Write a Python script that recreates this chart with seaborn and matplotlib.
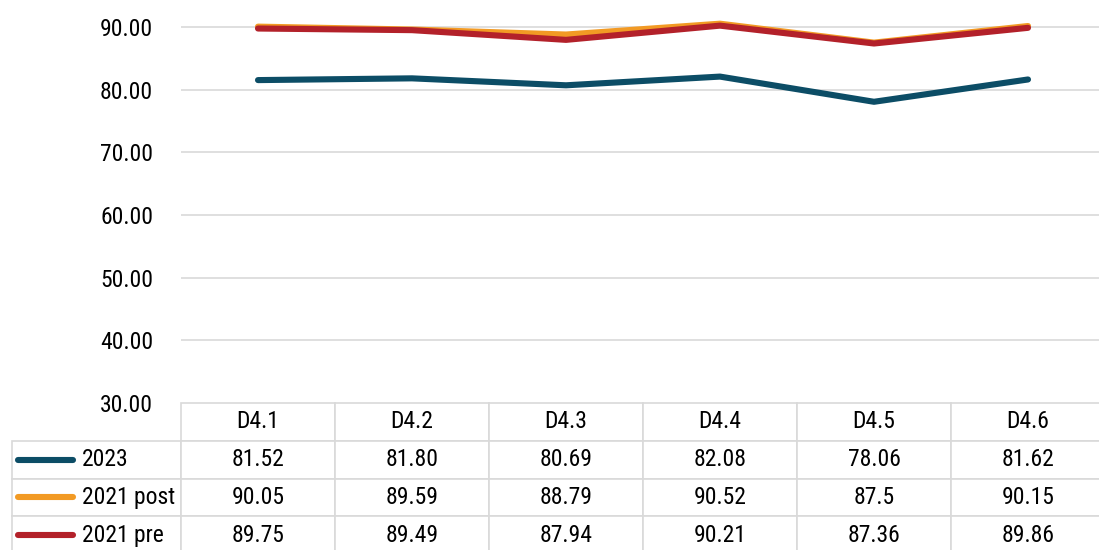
import numpy as np
import pandas as pd
import seaborn as sns
from matplotlib import pyplot as plt

categories = ["D4.1", "D4.2", "D4.3", "D4.4", "D4.5", "D4.6"]
series_names = ["2023", "2021 post", "2021 pre"]
vals_2023 = ["81.52", "81.80", "80.69", "82.08", "78.06", "81.62"]
vals_2021_post = ["90.05", "89.59", "88.79", "90.52", "87.5", "90.15"]
vals_2021_pre = ["89.75", "89.49", "87.94", "90.21", "87.36", "89.86"]
colors = ["#0c4d66", "#f29a24", "#b3212a"]
y_ticks = [30, 40, 50, 60, 70, 80, 90]

rows = [vals_2023, vals_2021_post, vals_2021_pre]

records = []
for name, vals in zip(series_names, rows):
    for i, v in enumerate(vals):
        records.append({"pos": i + 0.5, "value": float(v), "series": name})
df = pd.DataFrame(records)

sns.set_style("white")
plt.rcParams["font.family"] = ["Liberation Sans Narrow", "Roboto Condensed",
                               "Open Sans Condensed", "DejaVu Sans Condensed",
                               "DejaVu Sans"]
plt.rcParams["text.color"] = "black"
plt.rcParams["ytick.color"] = "black"

fs = 17

fig = plt.figure(figsize=(10.99, 5.5), dpi=100)
# axes spans x=181..1105 px, y=0..403 px
ax = fig.add_axes([181 / 1099, 1 - 403 / 550, 924 / 1099, 403 / 550])

sns.lineplot(data=df, x="pos", y="value", hue="series", hue_order=series_names,
             palette=colors, lw=4.4, legend=False, ax=ax, solid_capstyle="round")

ax.set_xlim(0, 6)
ax.set_ylim(30, 94.3)
ax.set_yticks(y_ticks)
ax.set_yticklabels(["{:.2f}".format(t) for t in y_ticks], fontsize=fs)
ax.set_xticks([])
ax.set_xlabel("")
ax.set_ylabel("")
ax.tick_params(axis="y", length=0, pad=20)
for s in ax.spines.values():
    s.set_visible(False)
for t in y_ticks[1:]:
    ax.axhline(t, color="#d9d9d9", lw=1.2, zorder=0)

# data table under the plot, first column holds the legend
lab_w = 169 / 924
tab_h = 151 / 403
cell_text = [[""] + r for r in rows]
tbl = ax.table(cellText=cell_text, colLabels=[""] + categories,
               colWidths=[lab_w] + [1 / 6] * 6, cellLoc="center",
               bbox=[-lab_w, -tab_h, 1 + lab_w, tab_h])
tbl.auto_set_font_size(False)
tbl.set_fontsize(fs)
for (r, c), cell in tbl.get_celld().items():
    cell.set_edgecolor("#d9d9d9")
    cell.set_linewidth(1.2)
    cell.get_text().set_color("black")
    if r == 0 and c == 0:
        cell.visible_edges = ""

# legend keys and names inside the first column
for i, (name, col) in enumerate(zip(series_names, colors)):
    yc = -tab_h + tab_h * (2.5 - i) / 4
    ax.plot([(18 - 181) / 924, (73 - 181) / 924], [yc, yc], color=col, lw=4.4,
            solid_capstyle="round", transform=ax.transAxes, clip_on=False)
    ax.text((82 - 181) / 924, yc, name, fontsize=fs, ha="left", va="center",
            transform=ax.transAxes)

plt.savefig("out.png", dpi=100)
plt.close()
